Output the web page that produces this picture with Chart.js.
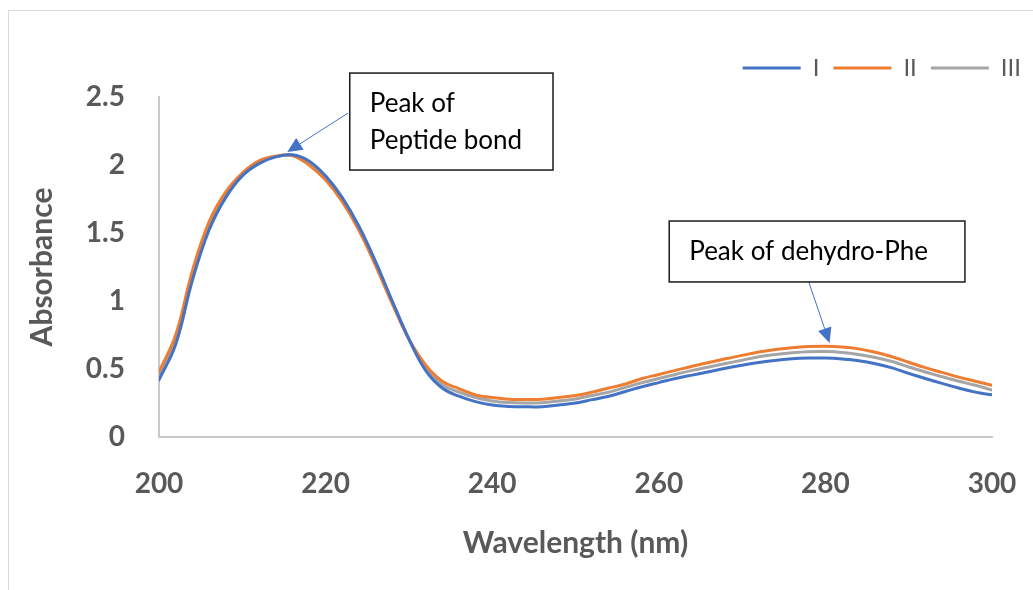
<!DOCTYPE html>
<html>
<head>
<meta charset="utf-8">
<script src="https://cdn.jsdelivr.net/npm/chart.js@4/dist/chart.umd.min.js"></script>
<style>
  html, body { margin: 0; padding: 0; background: #fff; overflow: hidden; }
  #frame { position: absolute; left: 8px; top: 10px; width: 1030px; height: 580px; border: 1px solid #d9d9d9; }
  canvas { display: block; }
</style>
</head>
<body>
<div id="frame"><canvas id="chart" width="1030" height="580"></canvas></div>
<script>
// wavelength in nm, every 2 nm
const wavelengths = [200,202,204,206,208,210,212,214,216,218,220,222,224,226,228,230,232,234,236,238,240,
  242,244,246,248,250,252,254,256,258,260,262,264,266,268,270,272,274,276,278,280,
  282,284,286,288,290,292,294,296,298,300];

const seriesI = [0.42,0.68,1.15,1.52,1.76,1.92,2.01,2.06,2.075,2.03,1.92,1.76,1.55,1.29,1.00,0.72,0.49,0.36,0.30,0.26,0.235,
  0.225,0.222,0.223,0.235,0.25,0.275,0.30,0.335,0.37,0.40,0.43,0.455,0.48,0.505,0.528,0.548,0.563,0.575,0.58,0.58,
  0.573,0.56,0.538,0.508,0.468,0.43,0.394,0.36,0.33,0.31];

const seriesII = [0.48,0.75,1.22,1.58,1.80,1.94,2.03,2.065,2.07,2.00,1.89,1.73,1.52,1.26,0.98,0.72,0.53,0.41,0.355,0.31,0.29,
  0.278,0.276,0.278,0.29,0.305,0.33,0.36,0.39,0.43,0.46,0.49,0.52,0.548,0.575,0.60,0.625,0.643,0.657,0.665,0.668,
  0.662,0.648,0.623,0.59,0.55,0.51,0.475,0.44,0.41,0.38];

const seriesIII = [0.46,0.72,1.19,1.55,1.78,1.93,2.02,2.06,2.07,2.015,1.90,1.74,1.53,1.27,0.99,0.72,0.51,0.385,0.33,0.29,0.265,
  0.253,0.25,0.252,0.265,0.28,0.305,0.33,0.365,0.40,0.43,0.46,0.49,0.515,0.54,0.565,0.59,0.607,0.62,0.627,0.628,
  0.622,0.607,0.585,0.555,0.515,0.478,0.443,0.41,0.38,0.345];

const seriesNames = ['I', 'II', 'III'];
const seriesColors = ['#4472C4', '#ED7D31', '#A5A5A5'];

const xTicks = [200, 220, 240, 260, 280, 300];
const yTicks = [0, 0.5, 1, 1.5, 2, 2.5];

// callouts: box corners and arrow ends in data units (wavelength, absorbance)
const callouts = [
  { lines: ['Peak of', 'Peptide bond'], box: [222.9, 2.676, 247.3, 1.963], tail: [222.7, 2.382], tip: [215.4, 2.096] },
  { lines: ['Peak of dehydro-Phe'], box: [261.25, 1.588, 296.75, 1.14], tail: [278.0, 1.14], tip: [280.5, 0.691] }
];

function makeData(values) {
  return wavelengths.map((w, i) => ({ x: w, y: values[i] }));
}

const datasets = [seriesI, seriesII, seriesIII].map((vals, i) => ({
  label: seriesNames[i],
  data: makeData(vals),
  borderColor: seriesColors[i],
  backgroundColor: seriesColors[i],
  borderWidth: 3,
  borderCapStyle: 'round',
  pointRadius: 0,
  tension: 0.4,
  fill: false
}));

const calloutPlugin = {
  id: 'callouts',
  afterDatasetsDraw(chart) {
    const ctx = chart.ctx;
    const xs = chart.scales.x, ys = chart.scales.y;
    ctx.save();
    callouts.forEach(c => {
      const bx0 = xs.getPixelForValue(c.box[0]), by0 = ys.getPixelForValue(c.box[1]);
      const bx1 = xs.getPixelForValue(c.box[2]), by1 = ys.getPixelForValue(c.box[3]);
      // arrow
      const tx = xs.getPixelForValue(c.tail[0]), ty = ys.getPixelForValue(c.tail[1]);
      const px = xs.getPixelForValue(c.tip[0]), py = ys.getPixelForValue(c.tip[1]);
      const ang = Math.atan2(py - ty, px - tx);
      const headLen = 15, headW = 7;
      ctx.strokeStyle = '#4472C4';
      ctx.fillStyle = '#4472C4';
      ctx.lineWidth = 1;
      ctx.beginPath();
      ctx.moveTo(tx, ty);
      ctx.lineTo(px - Math.cos(ang) * headLen, py - Math.sin(ang) * headLen);
      ctx.stroke();
      ctx.beginPath();
      ctx.moveTo(px, py);
      ctx.lineTo(px - Math.cos(ang) * headLen - Math.sin(ang) * headW, py - Math.sin(ang) * headLen + Math.cos(ang) * headW);
      ctx.lineTo(px - Math.cos(ang) * headLen + Math.sin(ang) * headW, py - Math.sin(ang) * headLen - Math.cos(ang) * headW);
      ctx.closePath();
      ctx.fill();
      // box
      ctx.fillStyle = '#fff';
      ctx.fillRect(bx0, by0, bx1 - bx0, by1 - by0);
      ctx.strokeStyle = '#1a1a1a';
      ctx.lineWidth = 1.5;
      ctx.strokeRect(bx0, by0, bx1 - bx0, by1 - by0);
      ctx.fillStyle = '#000';
      ctx.font = '26px Lato';
      ctx.textBaseline = 'alphabetic';
      ctx.textAlign = 'left';
      c.lines.forEach((t, i) => {
        ctx.fillText(t, bx0 + 20, by0 + 39 + i * 37);
      });
    });
    ctx.restore();
  }
};

const legendGap = {
  id: 'legendGap',
  afterInit(chart) {
    const fit = chart.legend.fit;
    chart.legend.fit = function () {
      fit.call(this);
      this.height += 7;
    };
  }
};

const tickFont = { family: 'Lato', size: 28, weight: 'bold' };
const titleFont = { family: 'Lato', size: 30, weight: 'bold' };

new Chart(document.getElementById('chart'), {
  type: 'line',
  data: { datasets: datasets },
  options: {
    responsive: false,
    animation: false,
    layout: { padding: { left: 11, top: 31, right: 4, bottom: 0 } },
    plugins: {
      legend: {
        position: 'top',
        align: 'end',
        labels: {
          usePointStyle: true,
          pointStyle: 'line',
          pointStyleWidth: 58,
          padding: 14,
          color: '#595959',
          font: { family: 'Lato', size: 24 }
        }
      },
      tooltip: { enabled: false }
    },
    scales: {
      x: {
        type: 'linear',
        min: 200,
        max: 300,
        afterBuildTicks: s => { s.ticks = xTicks.map(v => ({ value: v })); },
        afterFit: s => { s.height = 154; s.paddingRight = 47; },
        grid: { display: false, drawTicks: false },
        border: { display: true, color: '#c9c9c9', width: 2 },
        ticks: { color: '#595959', font: tickFont, padding: 30, maxRotation: 0 },
        title: { display: true, text: 'Wavelength (nm)', color: '#595959', font: titleFont, padding: { top: 4, bottom: 30 } }
      },
      y: {
        min: 0,
        max: 2.5,
        afterBuildTicks: s => { s.ticks = yTicks.map(v => ({ value: v })); },
        afterFit: s => { s.width = 139; },
        grid: { display: false, drawTicks: false },
        border: { display: true, color: '#c9c9c9', width: 2 },
        ticks: { color: '#595959', font: tickFont, padding: 34, callback: v => String(v) },
        title: { display: true, text: 'Absorbance', color: '#595959', font: titleFont, padding: { top: 4, bottom: 4 } }
      }
    }
  },
  plugins: [calloutPlugin, legendGap]
});
</script>
</body>
</html>
